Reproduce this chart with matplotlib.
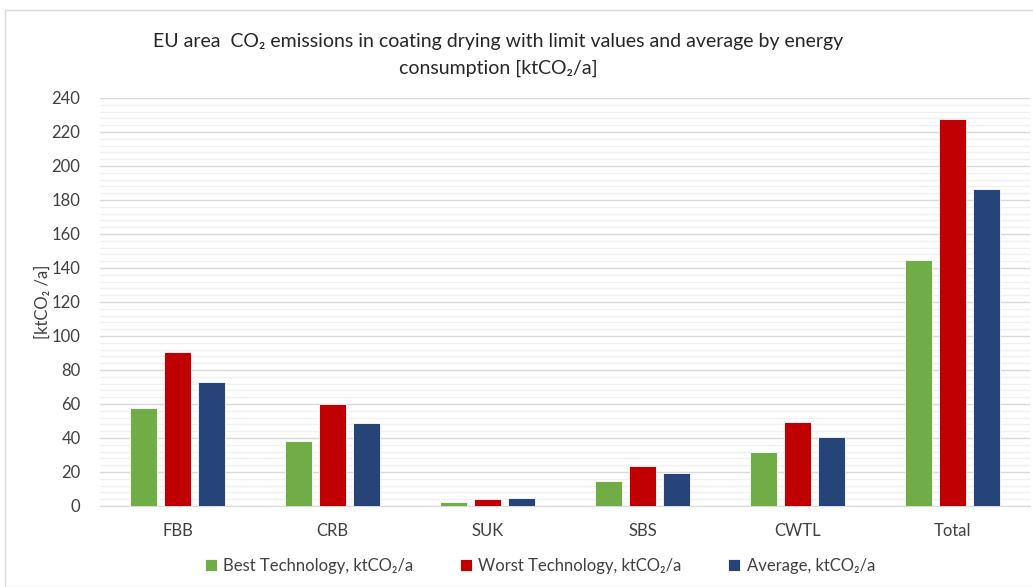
import matplotlib
matplotlib.use("Agg")
import matplotlib.pyplot as plt
import numpy as np
from matplotlib.patches import Rectangle

categories = ["FBB", "CRB", "SUK", "SBS", "CWTL", "Total"]
best = [57.5, 38.4, 2.4, 14.5, 31.6, 144.5]
worst = [90.6, 60.2, 4.3, 23.5, 49.6, 227.6]
average = [73.1, 48.6, 4.7, 19.4, 40.4, 186.3]
series_names = ["Best Technology, ktCO\u2082/a", "Worst Technology, ktCO\u2082/a", "Average, ktCO\u2082/a"]
colors = ["#70AD47", "#C00000", "#264478"]

plt.rcParams['font.family'] = ['Lato', 'DejaVu Sans']

W, H = 1033, 587
fig = plt.figure(figsize=(W/100, H/100), dpi=100)
ax = fig.add_axes([100/W, 1-506/H, 930/W, 408/H])

x = np.arange(len(categories))
bw = 0.174
pitch = 0.22
for i, (vals, c, name) in enumerate(zip([best, worst, average], colors, series_names)):
    ax.bar(x + (i-1)*pitch, vals, width=bw, color=c, edgecolor="white", linewidth=0.6, label=name, zorder=3)

ax.set_xlim(-0.5, len(categories)-0.5)
ax.set_ylim(0, 240)
ax.set_yticks(np.arange(0, 241, 20))
ax.set_yticks(np.arange(0, 241, 4), minor=True)
ax.set_xticks(x)
ax.set_xticklabels(categories)
ax.grid(axis='y', which='major', color='#D9D9D9', linewidth=1.0, zorder=0)
ax.grid(axis='y', which='minor', color='#F0F0F0', linewidth=1.0, zorder=0)
for s in ['top', 'right', 'left']:
    ax.spines[s].set_visible(False)
ax.spines['bottom'].set_color('#D9D9D9')
ax.tick_params(axis='both', which='both', length=0, labelsize=12, colors='#404040')
ax.tick_params(axis='y', pad=14)
ax.tick_params(axis='x', pad=12)
ax.set_ylabel("[ktCO\u2082 /a]", fontsize=12, color='#404040')
ax.yaxis.set_label_coords((51-100)/930, 0.5)

fig.text(498/W, 1-42/H, "EU area  CO\u2082 emissions in coating drying with limit values and average by energy",
         ha='center', va='center', fontsize=14, color='#262626')
fig.text(498/W, 1-68/H, "consumption [ktCO\u2082/a]", ha='center', va='center', fontsize=14, color='#262626')

fig.legend(loc='center', bbox_to_anchor=(540/W, 1-566/H), ncol=3, frameon=False, fontsize=12,
           handlelength=0.7, handleheight=0.7, columnspacing=2.8, handletextpad=0.4,
           labelcolor='#404040')

fig.patches.append(Rectangle((5/W, 0), 2, 1-10/H, transform=fig.transFigure, fill=False,
                             edgecolor='#D9D9D9', linewidth=1.0))

fig.savefig("out.png", dpi=100)
